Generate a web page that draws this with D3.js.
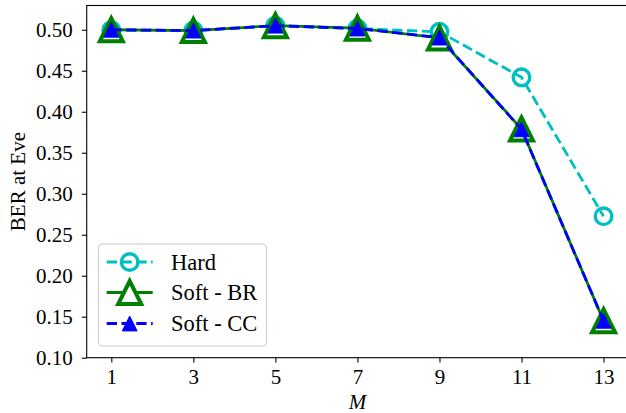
<!DOCTYPE html>
<html><head><meta charset="utf-8">
<script src="https://cdn.jsdelivr.net/npm/d3@7"></script>
<style>html,body{margin:0;padding:0;background:#fff;}svg{display:block;font-family:"Liberation Serif","Times New Roman",serif;}</style>
</head><body>
<svg id="c" width="626" height="413"></svg>
<script>
const M = [1, 3, 5, 7, 9, 11, 13];
const hard   = [0.4995, 0.4990, 0.5050, 0.5015, 0.4975, 0.4420, 0.2725];
const softBR = [0.5000, 0.4990, 0.5050, 0.5020, 0.4900, 0.3790, 0.1450];
const softCC = [0.5000, 0.4990, 0.5050, 0.5015, 0.4905, 0.3785, 0.1450];
const xTicks = [1, 3, 5, 7, 9, 11, 13];
const yTicks = [0.10, 0.15, 0.20, 0.25, 0.30, 0.35, 0.40, 0.45, 0.50];
const labels = ["Hard", "Soft - BR", "Soft - CC"];

const svg = d3.select("#c");
const L = 86.7, T = 5.5, B = 357.7;
const x = d3.scaleLinear().domain([0.4, 13.6]).range([L, L + 13.2 * 41.02]);
const y = d3.scaleLinear().domain([0.10, 0.5296]).range([B, T]);
const R = x(13.6);

const fs = 21, lfs = 22.5;
// axes
const gx = svg.append("g").attr("transform", `translate(0,${B})`)
  .call(d3.axisBottom(x).tickValues(xTicks).tickSize(4.9).tickPadding(4).tickFormat(d3.format("d")));
const gy = svg.append("g").attr("transform", `translate(${L},0)`)
  .call(d3.axisLeft(y).tickValues(yTicks).tickSize(4.9).tickPadding(9).tickFormat(d3.format(".2f")));
[gx, gy].forEach(g => {
  g.selectAll("text").attr("font-size", fs).attr("font-family", "Liberation Serif").attr("fill", "#000");
  g.selectAll("line").attr("stroke", "#000").attr("stroke-width", 1.1);
  g.select(".domain").remove();
});
gx.selectAll("text").attr("dy", "0.85em");
// frame
svg.append("rect").attr("x", L).attr("y", T).attr("width", R - L).attr("height", B - T)
  .attr("fill", "none").attr("stroke", "#000").attr("stroke-width", 1.1);

const plot = svg.append("g");
const line = d3.line().x((d, i) => x(M[i])).y(d => y(d));
const cyan = "#00BFBF", green = "#008000", blue = "#0000FF";
const tri = s => `M0,${-s}L${-s},${s}L${s},${s}Z`;

// Hard
plot.append("path").datum(hard).attr("d", line).attr("fill", "none")
  .attr("stroke", cyan).attr("stroke-width", 2.8).attr("stroke-dasharray", "10.3,4.5");
plot.selectAll(".h").data(hard).join("circle").attr("cx", (d, i) => x(M[i])).attr("cy", d => y(d))
  .attr("r", 8.3).attr("fill", "none").attr("stroke", cyan).attr("stroke-width", 3.4);
// Soft - BR
plot.append("path").datum(softBR).attr("d", line).attr("fill", "none")
  .attr("stroke", green).attr("stroke-width", 2.8);
plot.selectAll(".b").data(softBR).join("path").attr("d", tri(11.5))
  .attr("transform", (d, i) => `translate(${x(M[i])},${y(d)})`)
  .attr("fill", "#fff").attr("stroke", green).attr("stroke-width", 4).attr("stroke-linejoin", "miter");
// Soft - CC
plot.append("path").datum(softCC).attr("d", line).attr("fill", "none")
  .attr("stroke", blue).attr("stroke-width", 2.8).attr("stroke-dasharray", "10.3,4.5");
plot.selectAll(".c").data(softCC).join("path").attr("d", tri(7.4))
  .attr("transform", (d, i) => `translate(${x(M[i])},${y(d)})`)
  .attr("fill", blue).attr("stroke", blue).attr("stroke-width", 1);

// labels
svg.append("text").attr("x", x(7)).attr("y", 409).attr("text-anchor", "middle")
  .attr("font-size", fs).attr("font-style", "italic").text("M");
svg.append("text").attr("transform", `translate(25,${(T + B) / 2}) rotate(-90)`).attr("text-anchor", "middle")
  .attr("font-size", fs).text("BER at Eve");

// legend
const lg = svg.append("g");
lg.append("rect").attr("x", 98.5).attr("y", 244).attr("width", 168).attr("height", 102).attr("rx", 4)
  .attr("fill", "#fff").attr("fill-opacity", 0.8).attr("stroke", "#cccccc").attr("stroke-width", 1.1);
const ly = [262, 292.5, 323.5];
const hx0 = 106.7, hx1 = 152.7, hc = (hx0 + hx1) / 2;
// Hard entry
lg.append("line").attr("x1", hx0).attr("x2", hx1).attr("y1", ly[0]).attr("y2", ly[0])
  .attr("stroke", cyan).attr("stroke-width", 2.8).attr("stroke-dasharray", "10.3,4.5");
lg.append("circle").attr("cx", hc).attr("cy", ly[0]).attr("r", 8.3).attr("fill", "none")
  .attr("stroke", cyan).attr("stroke-width", 3.4);
// BR entry
lg.append("line").attr("x1", hx0).attr("x2", hx1).attr("y1", ly[1]).attr("y2", ly[1])
  .attr("stroke", green).attr("stroke-width", 2.8);
lg.append("path").attr("d", tri(11.5)).attr("transform", `translate(${hc},${ly[1]})`)
  .attr("fill", "#fff").attr("stroke", green).attr("stroke-width", 4);
// CC entry
lg.append("line").attr("x1", hx0).attr("x2", hx1).attr("y1", ly[2]).attr("y2", ly[2])
  .attr("stroke", blue).attr("stroke-width", 2.8).attr("stroke-dasharray", "10.3,4.5");
lg.append("path").attr("d", tri(7.4)).attr("transform", `translate(${hc},${ly[2]})`)
  .attr("fill", blue).attr("stroke", blue).attr("stroke-width", 1);
lg.selectAll(".t").data(labels).join("text").attr("x", 171).attr("y", (d, i) => ly[i])
  .attr("dy", "0.35em").attr("font-size", lfs).text(d => d);
</script>
</body></html>
